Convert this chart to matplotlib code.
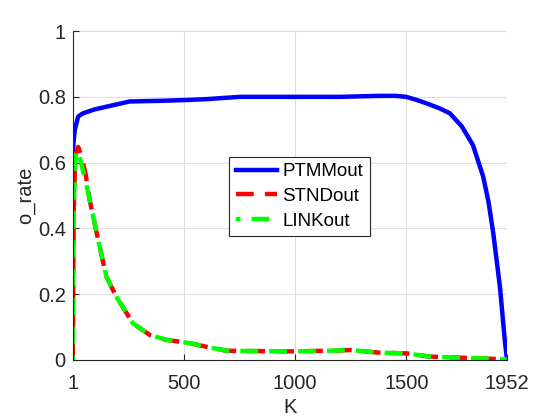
import matplotlib
matplotlib.use("Agg")
import matplotlib.pyplot as plt
import numpy as np

plt.rcParams['font.family'] = ['Liberation Sans', 'DejaVu Sans']

# PTMMout
k_ptmm = [1, 4, 10, 25, 47, 100, 152, 257, 400, 497, 600, 752, 1000, 1200, 1381, 1450, 1500,
          1550, 1600, 1650, 1696, 1750, 1800, 1846, 1870, 1891, 1921, 1943, 1952]
v_ptmm = [0.61, 0.66, 0.70, 0.74, 0.75, 0.762, 0.77, 0.786, 0.788, 0.79, 0.793, 0.80, 0.80, 0.80,
          0.803, 0.803, 0.80, 0.79, 0.778, 0.765, 0.75, 0.71, 0.653, 0.557, 0.48, 0.386, 0.223,
          0.06, 0.005]

# STNDout
k_stnd = [1, 5, 12, 25, 40, 60, 77, 115, 152, 197, 272, 347, 422, 527, 602, 692, 800, 1000,
          1150, 1250, 1381, 1500, 1606, 1700, 1860, 1952]
v_stnd = [0.0, 0.45, 0.62, 0.648, 0.62, 0.56, 0.486, 0.365, 0.253, 0.192, 0.111, 0.076, 0.061,
          0.051, 0.040, 0.028, 0.027, 0.026, 0.028, 0.03, 0.022, 0.02, 0.01, 0.008, 0.004, 0.002]

# LINKout
k_link = [1, 5, 10, 17, 30, 45, 60, 77, 115, 152, 197, 272, 347, 422, 527, 602, 692, 800, 1000,
          1150, 1250, 1381, 1500, 1606, 1700, 1860, 1952]
v_link = [0.0, 0.42, 0.60, 0.638, 0.62, 0.58, 0.54, 0.486, 0.365, 0.253, 0.192, 0.111, 0.076,
          0.061, 0.051, 0.040, 0.028, 0.027, 0.026, 0.028, 0.03, 0.022, 0.02, 0.01, 0.008, 0.004,
          0.002]

x_ticks = [1, 500, 1000, 1500, 1952]
y_ticks = [0, 0.2, 0.4, 0.6, 0.8, 1]
y_ticklabels = ['0', '0.2', '0.4', '0.6', '0.8', '1']

fig = plt.figure(figsize=(5.6, 4.2), dpi=100)
ax = fig.add_axes([0.130, 0.143, 0.775, 0.783])

ax.plot(k_ptmm, v_ptmm, color='#0000ff', lw=3.2, label='PTMMout')
ax.plot(k_stnd, v_stnd, color='#ff0000', lw=3.2, ls=(0, (4, 2.5)), label='STNDout')
ax.plot(k_link, v_link, color='#00ff00', lw=3.2, ls=(3, (4, 2.5)), label='LINKout')

ax.set_xlim(1, 1952)
ax.set_ylim(0, 1)
ax.set_xticks(x_ticks)
ax.set_xticklabels([str(t) for t in x_ticks])
ax.set_yticks(y_ticks)
ax.set_yticklabels(y_ticklabels)

dark = '#262626'
ax.grid(True, color='#dedede', lw=0.8)
ax.set_axisbelow(True)
for s in ['top', 'right']:
    ax.spines[s].set_visible(False)
for s in ['left', 'bottom']:
    ax.spines[s].set_color(dark)
    ax.spines[s].set_linewidth(0.8)
ax.tick_params(direction='in', length=4, width=0.8, colors=dark, labelsize=14.5)
ax.tick_params(axis='x', pad=10)
ax.tick_params(axis='y', pad=5)
ax.set_xlabel('K', fontsize=14.5, color=dark, labelpad=4)
ax.set_ylabel('o_rate', fontsize=14.5, color=dark, labelpad=2)

leg = ax.legend(loc='upper left', bbox_to_anchor=(0.36, 0.618), fontsize=13.5, frameon=True,
                fancybox=False, edgecolor=dark, framealpha=1, handlelength=2.2,
                handletextpad=0.3, borderpad=0.35, labelspacing=0.4, borderaxespad=0)
leg.get_frame().set_linewidth(0.8)

fig.savefig('out.png', dpi=100)
